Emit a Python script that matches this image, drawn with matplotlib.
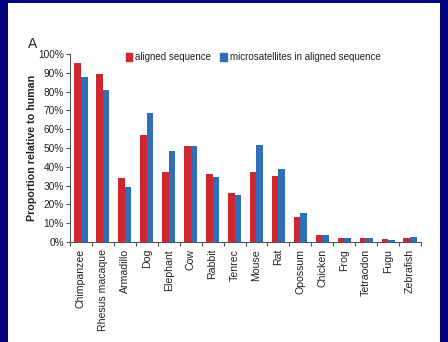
import matplotlib
matplotlib.use("Agg")
import matplotlib.pyplot as plt
import numpy as np
from matplotlib.patches import Rectangle, Patch
from matplotlib.ticker import FixedLocator, PercentFormatter

# Data (percent of human)
species = ["Chimpanzee", "Rhesus macaque", "Armadillo", "Dog", "Elephant", "Cow",
           "Rabbit", "Tenrec", "Mouse", "Rat", "Opossum", "Chicken", "Frog",
           "Tetraodon", "Fugu", "Zebrafish"]
aligned = [95.4, 89.4, 34.3, 56.9, 37.4, 51.1, 36.0, 25.9, 37.1, 35.3, 13.3,
           3.9, 2.3, 2.0, 1.6, 2.0]
microsat = [87.6, 80.9, 29.4, 68.8, 48.2, 51.0, 34.6, 25.2, 51.4, 39.0, 15.6,
            3.5, 1.9, 2.0, 1.1, 2.4]
yticks = [0, 10, 20, 30, 40, 50, 60, 70, 80, 90, 100]

RED = "#d0262f"
BLUE = "#2f6fb7"
NAVY = "#04047e"
TXT = "#222222"

plt.rcParams["font.family"] = ["Liberation Sans", "DejaVu Sans"]

fig = plt.figure(figsize=(4.48, 3.42), dpi=100, facecolor=NAVY)
# white slide panel
fig.add_artist(Rectangle((8 / 448, 0), (440 - 8) / 448, (342 - 3) / 342,
                         transform=fig.transFigure, facecolor="white",
                         edgecolor="none", zorder=0))

ax = fig.add_axes([70 / 448, 100 / 342, 351 / 448, 188 / 342])
ax.set_facecolor("none")

x = np.arange(len(species))
w = 0.30
ax.bar(x - w / 2, aligned, width=w, color=RED, label="aligned sequence")
ax.bar(x + w / 2, microsat, width=w, color=BLUE,
       label="microsatellites in aligned sequence")

ax.set_xlim(-0.5, len(species) - 0.5)
ax.set_ylim(0, 100)
ax.set_yticks(yticks)
ax.yaxis.set_major_formatter(PercentFormatter(decimals=0))
ax.set_xticks(x)
ax.set_xticklabels(species, rotation=90, fontsize=7.6, color=TXT)
ax.xaxis.set_minor_locator(FixedLocator(np.arange(-0.5, len(species), 1.0)))
ax.tick_params(axis="x", which="major", length=0, pad=5)
ax.tick_params(axis="x", which="minor", length=3, width=0.8, color="#555555", direction="out")
ax.tick_params(axis="y", length=3, width=0.8, color="#555555", labelsize=7.3,
               labelcolor=TXT, pad=1.5)

for s in ["top", "right"]:
    ax.spines[s].set_visible(False)
for s in ["left", "bottom"]:
    ax.spines[s].set_color("#555555")
    ax.spines[s].set_linewidth(0.8)

ax.set_ylabel("Proportion relative to human", fontsize=7.7, fontweight="bold",
              color=TXT, labelpad=0.5)
fig.text(33 / 448, 1 - 44 / 342, "A", fontsize=10, color=TXT, ha="center", va="center")

handles = [Patch(color=RED), Patch(color=BLUE)]
fig.legend(handles, ["aligned sequence", "microsatellites in aligned sequence"],
           loc="center", bbox_to_anchor=(253 / 448, 1 - 57 / 342), ncol=2,
           frameon=False, fontsize=7, handlelength=0.7, handleheight=0.9,
           handletextpad=0.25, columnspacing=1.0, labelcolor=TXT)

fig.savefig("out.png", dpi=100, facecolor=NAVY)
